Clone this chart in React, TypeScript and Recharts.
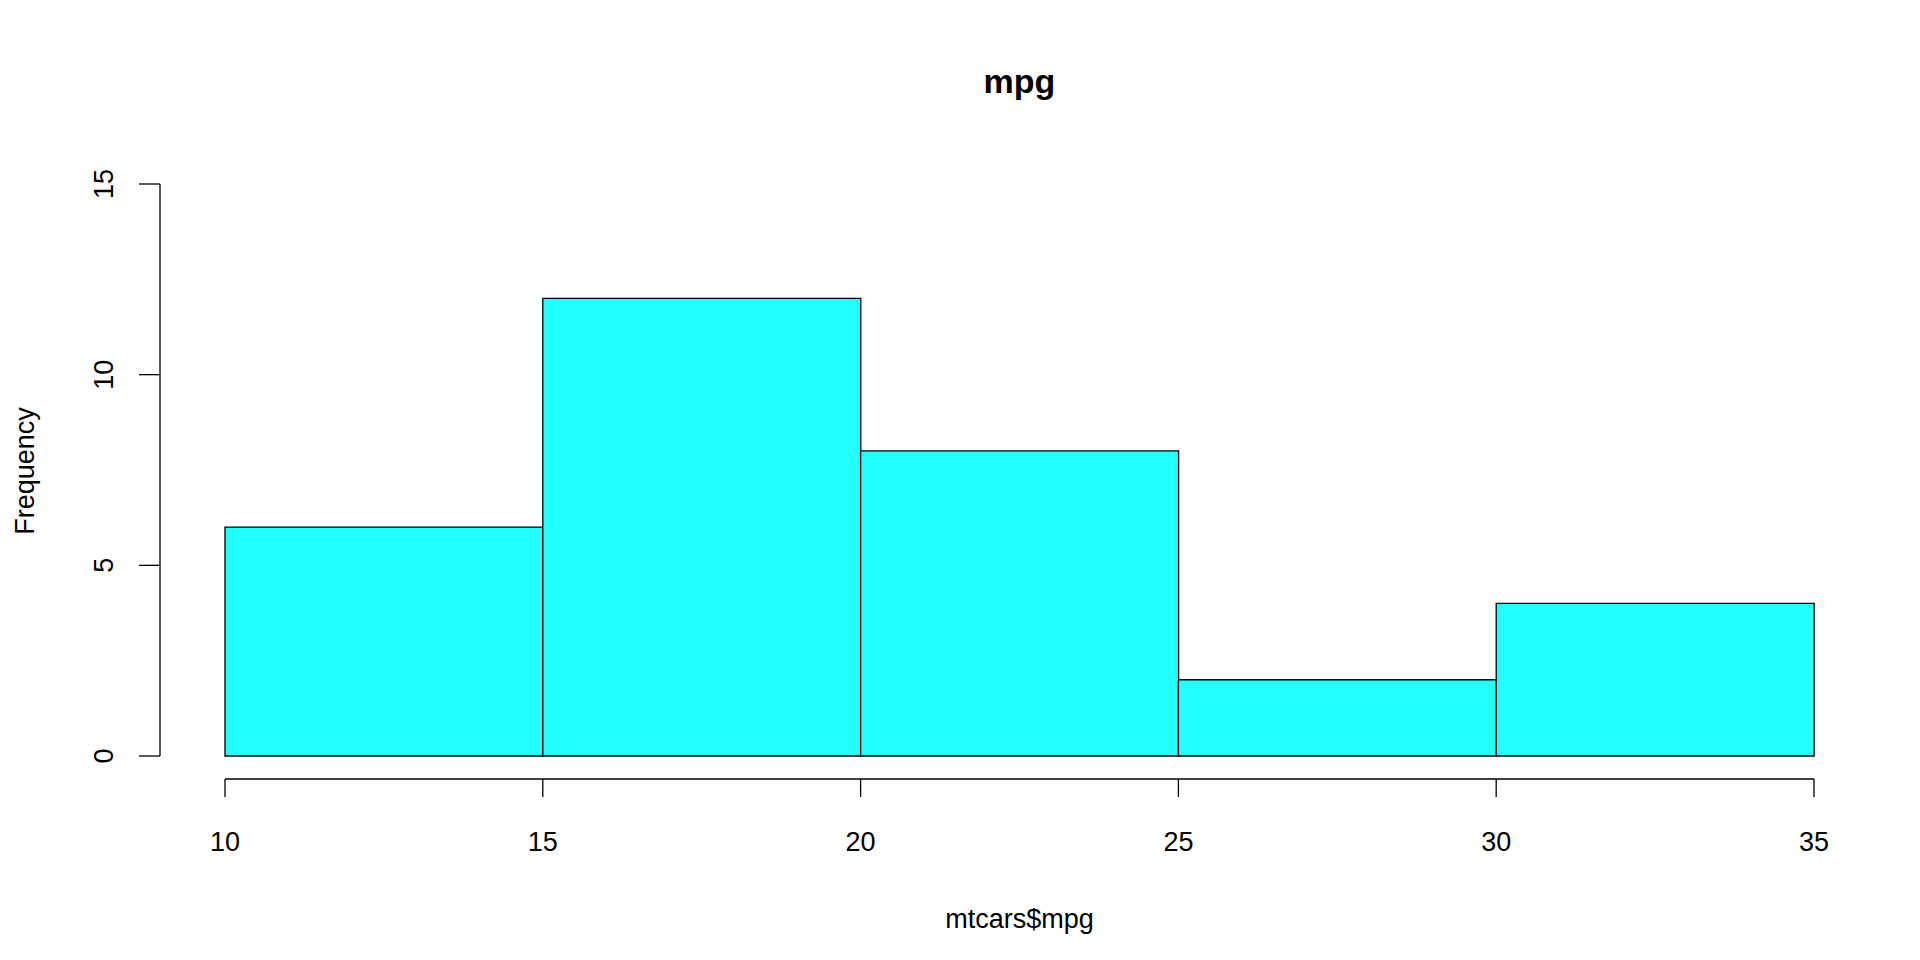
import { BarChart, Bar, XAxis, YAxis } from 'recharts'

const binStarts = [10, 15, 20, 25, 30]
const binEnd = 35
const counts = [6, 12, 8, 2, 4]
const yTicks = [0, 5, 10, 15]

const data = binStarts.map((b, i) => ({ bin: b, count: counts[i] }))

const W = 1920
const H = 960
const M = { top: 184, right: 106, left: 225, bottom: 204 }
const PW = W - M.left - M.right
const PH = H - M.top - M.bottom
const HALF = PW / binStarts.length / 2
const FONT = '"Liberation Sans", Arial, sans-serif'

// each category tick sits at the bin centre; draw the bin's left edge (and the final right edge)
const XTick = (p: any) => {
  const y0 = p.y + 23
  const left = p.x - HALF
  const right = p.x + HALF
  const last = p.index === binStarts.length - 1
  const label = (x: number, v: number) => (
    <g>
      <line x1={x} y1={y0} x2={x} y2={y0 + 18} stroke="#000" strokeWidth={1.3} />
      <text x={x} y={p.y + 88} textAnchor="middle" dominantBaseline="middle" fontSize={27} fontFamily={FONT} fill="#000">
        {v}
      </text>
    </g>
  )
  return (
    <g>
      <line x1={left} y1={y0} x2={right} y2={y0} stroke="#000" strokeWidth={1.3} />
      {label(left, p.payload.value)}
      {last && label(right, binEnd)}
    </g>
  )
}

const YTick = (p: any) => {
  const x0 = p.x - 65
  return (
    <g>
      {p.index === 0 && <line x1={x0} y1={p.y} x2={x0} y2={p.y - PH} stroke="#000" strokeWidth={1.3} />}
      <line x1={x0} y1={p.y} x2={x0 - 21} y2={p.y} stroke="#000" strokeWidth={1.3} />
      <text x={p.x - 119} y={p.y} textAnchor="middle" dominantBaseline="middle" fontSize={27} fontFamily={FONT} fill="#000"
        transform={`rotate(-90 ${p.x - 119} ${p.y})`}>
        {p.payload.value}
      </text>
    </g>
  )
}

export default function App() {
  return (
    <div style={{ position: 'absolute', left: 0, top: 0, width: W, height: H, background: '#fff', fontFamily: FONT }}>
      <BarChart width={W} height={H} data={data} margin={{ top: M.top, right: M.right, left: 0, bottom: 0 }} barCategoryGap={0}>
        <XAxis dataKey="bin" height={M.bottom} interval={0}
          axisLine={false} tickLine={false} tickSize={0} tickMargin={0} tick={XTick} />
        <YAxis domain={[0, 15]} ticks={yTicks} width={M.left} axisLine={false} tickLine={false}
          tickSize={0} tickMargin={0} tick={YTick} />
        <Bar dataKey="count" fill="#21FFFF" stroke="#000" strokeWidth={1.3} isAnimationActive={false} />
      </BarChart>
      <div style={{ position: 'absolute', left: M.left, width: PW, top: 62, textAlign: 'center', fontSize: 34, fontWeight: 'bold' }}>mpg</div>
      <div style={{ position: 'absolute', left: M.left, width: PW, top: 904, textAlign: 'center', fontSize: 27 }}>mtcars$mpg</div>
      <div style={{ position: 'absolute', left: 25, top: 471, fontSize: 27, transform: 'translate(-50%, -50%) rotate(-90deg)', whiteSpace: 'nowrap' }}>Frequency</div>
    </div>
  )
}
